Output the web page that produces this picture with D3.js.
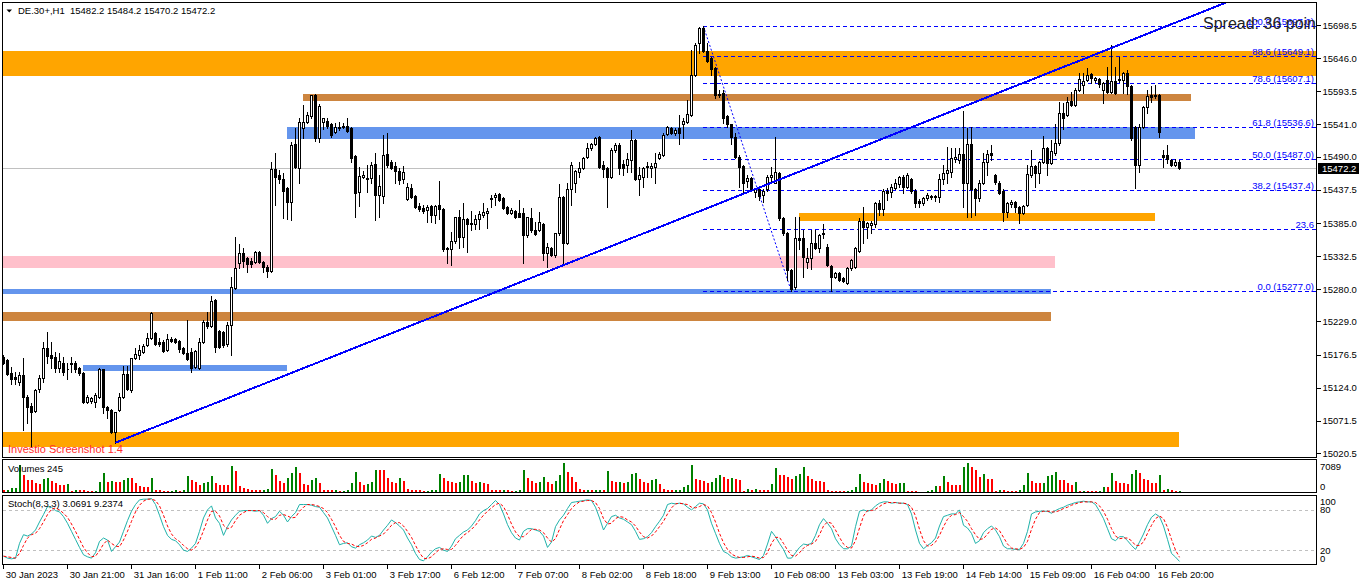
<!DOCTYPE html>
<html>
<head>
<meta charset="utf-8">
<script src="https://cdn.jsdelivr.net/npm/d3@7"></script>
<style>
  body { margin: 0; background: #fff; overflow: hidden; }
  svg { display: block; }
</style>
</head>
<body>
<svg id="chart" width="1362" height="585"></svg>
<script>
// DE.30+ H1 candles (price points)
var opens = [
15172,15168,15148,15141,15133,15145,15109,15095,15087,15122,
15140,15187,15176,15172,15156,15164,15153,15164,15164,15156,
15148,15101,15103,15101,15109,15153,15093,15089,15054,15089,
15109,15146,15121,15171,15176,15180,15192,15203,15211,15196,
15196,15184,15201,15201,15198,15187,15179,15180,15157,15156,
15196,15228,15222,15263,15214,15212,15193,15224,15282,15322,
15338,15330,15325,15323,15339,15323,15315,15309,15470,15461,
15454,15441,15418,15510,15472,15536,15545,15554,15587,15520,
15545,15546,15542,15529,15536,15537,15539,15536,15491,15434,
15457,15456,15456,15478,15430,15428,15494,15481,15475,15467,
15454,15423,15441,15428,15412,15409,15406,15412,15398,15414,
15407,15346,15344,15356,15394,15362,15391,15383,15383,15391,
15398,15401,15425,15426,15431,15425,15410,15401,15404,15401,
15401,15366,15393,15374,15374,15383,15338,15346,15335,15369,
15426,15354,15438,15449,15465,15472,15489,15504,15510,15521,
15477,15472,15457,15501,15509,15478,15477,15485,15517,15454,
15457,15473,15472,15473,15488,15493,15526,15536,15528,15536,
15542,15545,15556,15620,15670,15693,15657,15646,15631,15588,
15591,15554,15541,15521,15489,15475,15451,15456,15434,15438,
15430,15438,15457,15449,15464,15393,15369,15311,15283,15361,
15361,15323,15330,15354,15346,15367,15347,15317,15299,15306,
15298,15290,15314,15315,15341,15388,15378,15382,15383,15417,
15407,15436,15434,15441,15446,15457,15442,15454,15436,15420,
15417,15425,15426,15428,15426,15454,15464,15465,15486,15485,
15494,15449,15510,15439,15425,15449,15481,15496,15461,15449,
15436,15402,15415,15418,15410,15401,15414,15461,15475,15464,
15481,15504,15480,15496,15512,15559,15556,15578,15572,15596,
15604,15612,15621,15612,15613,15596,15612,15592,15610,15612,
15612,15623,15602,15537,15477,15537,15568,15587,15586,15587,
15493,15493,15485,15477,15482.2];
var highs = [
15176,15169,15157,15149,15149,15171,15113,15100,15122,15145,
15196,15212,15196,15180,15179,15172,15163,15172,15166,15157,
15149,15113,15109,15116,15156,15154,15095,15090,15085,15116,
15159,15159,15171,15187,15192,15193,15211,15244,15212,15203,
15200,15209,15204,15203,15200,15188,15232,15187,15184,15203,
15232,15244,15269,15264,15216,15214,15228,15299,15362,15352,
15346,15331,15330,15341,15341,15325,15319,15481,15496,15469,
15464,15442,15513,15536,15551,15572,15560,15588,15590,15573,
15551,15551,15544,15544,15545,15544,15551,15537,15493,15473,
15467,15477,15481,15496,15461,15525,15528,15485,15481,15472,
15475,15449,15447,15430,15417,15414,15414,15414,15414,15451,
15409,15347,15370,15394,15406,15417,15393,15404,15398,15404,
15417,15409,15430,15433,15433,15426,15412,15409,15406,15422,
15409,15394,15409,15386,15402,15385,15354,15347,15369,15447,
15428,15449,15481,15469,15481,15489,15512,15512,15521,15523,
15483,15473,15504,15512,15512,15485,15496,15533,15518,15473,
15473,15481,15480,15496,15497,15528,15539,15537,15536,15556,
15552,15580,15659,15670,15695,15697,15670,15648,15632,15596,
15596,15556,15542,15528,15493,15477,15461,15457,15441,15441,
15439,15461,15473,15521,15465,15394,15370,15312,15394,15394,
15374,15346,15374,15374,15367,15383,15351,15319,15307,15307,
15299,15315,15328,15347,15393,15410,15386,15388,15418,15422,
15438,15441,15446,15454,15459,15461,15464,15456,15438,15423,
15426,15433,15430,15430,15462,15477,15505,15504,15504,15504,
15562,15536,15537,15441,15453,15496,15501,15509,15462,15451,
15438,15418,15422,15420,15412,15414,15477,15501,15477,15483,
15523,15505,15517,15542,15576,15575,15584,15592,15598,15622,
15622,15631,15622,15616,15615,15608,15632,15667,15632,15648,
15624,15628,15604,15539,15541,15570,15596,15602,15604,15589,
15501,15509,15486,15486,15484.2];
var lows = [
15161,15145,15130,15130,15129,15057,15069,15030,15085,15117,
15133,15164,15156,15149,15149,15145,15138,15149,15149,15145,
15100,15100,15100,15093,15108,15084,15076,15053,15037,15087,
15108,15121,15117,15169,15169,15179,15190,15201,15192,15190,
15180,15182,15196,15195,15180,15177,15168,15149,15156,15154,
15195,15219,15220,15180,15187,15188,15190,15176,15280,15314,
15315,15307,15315,15322,15322,15307,15299,15307,15414,15449,
15393,15391,15390,15472,15449,15520,15544,15552,15515,15513,
15534,15536,15521,15528,15533,15536,15529,15481,15394,15412,
15456,15434,15449,15390,15394,15417,15473,15470,15449,15446,
15449,15422,15425,15409,15404,15401,15386,15386,15385,15391,
15341,15322,15319,15354,15346,15347,15339,15374,15375,15375,
15394,15377,15410,15414,15420,15407,15399,15399,15393,15394,
15322,15362,15370,15366,15372,15327,15315,15333,15331,15366,
15319,15352,15414,15434,15457,15470,15488,15501,15509,15472,
15457,15410,15456,15497,15462,15461,15465,15465,15453,15430,
15442,15457,15457,15449,15486,15491,15525,15526,15525,15510,
15520,15544,15554,15618,15654,15655,15640,15620,15583,15584,
15544,15537,15510,15488,15442,15434,15442,15436,15426,15422,
15418,15436,15449,15449,15390,15366,15295,15277,15280,15343,
15299,15314,15312,15343,15339,15361,15317,15278,15298,15293,
15291,15288,15311,15314,15339,15354,15361,15369,15378,15398,
15398,15422,15426,15438,15442,15433,15441,15433,15410,15410,
15414,15422,15423,15420,15418,15446,15449,15457,15481,15480,
15410,15394,15394,15398,15420,15447,15461,15485,15447,15431,
15388,15394,15410,15402,15385,15399,15412,15457,15442,15449,
15480,15461,15478,15493,15509,15534,15554,15570,15570,15594,
15591,15610,15607,15608,15600,15575,15591,15591,15589,15608,
15591,15589,15517,15441,15465,15536,15559,15576,15583,15521,
15473,15480,15475,15475,15470.2];
var closes = [
15163,15146,15138,15138,15145,15109,15093,15085,15121,15140,
15187,15174,15171,15156,15166,15149,15154,15162,15154,15148,
15101,15109,15108,15113,15153,15093,15089,15054,15085,15109,
15146,15122,15171,15177,15184,15190,15203,15243,15193,15193,
15182,15201,15198,15196,15185,15179,15169,15156,15182,15196,
15228,15222,15261,15188,15188,15192,15224,15283,15314,15338,
15325,15320,15320,15339,15323,15315,15309,15470,15457,15454,
15436,15418,15509,15473,15545,15545,15556,15587,15520,15570,
15551,15539,15525,15537,15537,15538,15531,15488,15433,15459,
15461,15455,15477,15430,15444,15493,15477,15472,15467,15453,
15465,15442,15426,15410,15407,15404,15410,15398,15412,15407,
15343,15343,15356,15394,15362,15391,15383,15385,15391,15399,
15402,15404,15423,15430,15422,15409,15401,15406,15394,15394,
15366,15394,15374,15367,15386,15338,15347,15335,15369,15426,
15354,15438,15477,15467,15472,15488,15504,15510,15520,15473,
15470,15457,15501,15509,15472,15472,15486,15517,15454,15461,
15472,15475,15475,15480,15494,15525,15537,15528,15533,15528,
15546,15557,15620,15667,15693,15657,15642,15629,15588,15589,
15551,15541,15521,15489,15473,15449,15456,15438,15438,15428,
15436,15457,15461,15465,15393,15369,15311,15280,15361,15358,
15331,15330,15354,15346,15366,15369,15319,15299,15306,15295,
15293,15314,15327,15346,15388,15378,15385,15385,15417,15407,
15436,15433,15442,15449,15457,15442,15461,15436,15417,15417,
15425,15430,15428,15426,15454,15464,15469,15488,15489,15494,
15449,15510,15438,15425,15449,15481,15494,15493,15450,15433,
15402,15417,15418,15410,15401,15412,15462,15475,15464,15481,
15504,15480,15499,15512,15559,15552,15576,15572,15596,15613,
15610,15620,15615,15615,15605,15607,15592,15610,15591,15613,
15623,15602,15520,15477,15537,15568,15586,15584,15587,15529,
15489,15486,15477,15481,15472.2];
var volumes = [
400,560,850,1050,6400,4000,2800,2800,2200,2000,3200,3400,2650,2050,1700,1700,1950,
150,470,470,470,150,150,300,
2400,4500,2500,2650,2500,2350,2800,3300,3300,2050,1400,1100,1100,3300,600,
450,300,250,350,400,300,450,
3900,2800,2500,1800,2200,2400,3900,2200,1800,1700,1600,6200,5000,1400,
900,700,600,500,450,500,800,
5500,4200,2600,2200,3300,4500,5900,4500,2000,1600,2900,3300,2200,
500,400,400,450,300,350,500,
2200,4900,2400,1600,2000,2500,5300,5200,5200,3300,2500,2200,3300,2700,800,
500,450,400,300,350,400,450,
4400,3300,2600,2400,2200,2400,4000,4200,2600,2200,2500,2200,1900,
600,400,400,500,450,300,350,600,
5400,3400,2700,2200,2500,3500,2400,2000,2600,4000,6900,4900,3600,2300,
700,500,600,400,500,600,450,
5100,2700,2400,2500,2100,2400,4300,4600,3200,2500,2100,2800,3100,2000,
800,600,400,500,600,1300,1700,
6400,3230,2840,2680,2050,2290,3470,4180,3620,3230,3470,3230,2990,320,
630,470,630,470,470,470,1890,
5830,4020,4020,3620,3230,3780,4260,5990,3780,3230,2680,2680,2440,
470,320,150,150,150,240,400,1100,
4410,2440,2050,1810,1650,2050,3230,2680,2050,1890,2050,2210,
320,320,150,100,100,150,470,1420,
1420,3780,2440,1650,1650,1650,5990,7089,5990,5200,3620,4260,3230,3230,
300,470,470,150,150,150,470,1650,
4570,2600,2210,2050,2210,3780,4020,4810,2990,2840,2050,1650,2440,
250,320,200,200,200,320,1260,1260,
4570,2680,2210,2050,1890,4410,5200,4570,3230,2990,2210,2210,4020,
500,630,470,240,245];
// Stochastic (8,3,3) main and signal
var stochMain = [
11,8,7,8,30,43,41,44,50,62, 73,85,84,79,77,70,60,48,36,24,
13,10,8,16,33,38,35,18,25,32, 48,64,78,88,95,96,96,97,88,72,
55,42,36,34,28,20,18,23,30,48, 68,80,86,68,60,42,55,65,72,78,
79,79,79,78,79,72,60,67,70,78, 72,62,70,76,88,88,88,87,85,84,
76,68,55,42,28,30,31,25,23,28, 31,35,41,39,42,50,57,65,61,56,
50,38,28,15,6,4,10,17,22,24, 20,18,26,37,42,47,50,56,64,74,
79,82,88,94,88,74,58,46,38,35, 48,52,52,50,48,41,24,32,55,65,
72,82,91,92,93,94,95,94,84,68, 50,60,70,72,68,66,62,58,48,36,
37,40,46,55,63,72,88,90,89,90, 89,84,80,85,90,89,80,60,45,30,
18,15,10,8,9,10,12,10,8,6, 12,29,48,40,30,21,8,8,16,24,
29,28,30,42,58,67,60,52,37,28, 22,22,26,55,78,80,78,80,86,90,
92,92,90,91,90,90,88,74,50,30, 22,27,31,38,56,70,72,74,74,80,
57,53,45,30,34,46,52,56,50,40, 26,22,22,21,21,30,48,74,77,78,
78,78,75,79,82,84,87,89,91,92, 93,92,92,88,78,67,52,37,34,40,
40,34,27,21,32,44,58,69,74,70, 56,36,15,9.6,3.0691];
var stochSignal = [
11,10,9,8,15,27,38,43,45,52, 62,73,81,83,80,75,69,59,48,36,
24,16,10,11,19,29,35,30,26,25, 35,48,63,77,87,93,96,96,94,86,
72,56,44,37,33,27,22,20,24,34, 49,65,78,78,71,57,52,54,64,72,
76,79,79,79,79,76,70,66,66,72, 73,71,68,69,78,84,88,88,87,85,
82,76,66,55,42,33,30,29,26,25, 27,31,36,38,41,44,50,57,61,61,
56,48,39,27,16,8,7,10,16,21, 22,21,21,27,35,42,46,51,57,65,
72,78,83,88,90,85,73,59,47,40, 40,45,51,51,50,46,38,32,37,51,
64,73,82,88,92,93,94,94,91,82, 67,59,60,67,70,69,65,62,56,47,
40,38,41,47,55,63,74,83,89,90, 89,88,84,83,85,88,86,76,62,45,
31,21,14,11,9,9,10,11,10,8, 9,16,30,39,39,30,20,12,11,16,
23,27,29,33,43,56,62,60,50,39, 29,24,23,34,53,71,79,79,81,85,
89,91,91,91,90,90,89,84,71,51, 34,26,27,32,42,55,66,72,73,76,
70,63,52,43,36,37,44,51,53,49, 39,29,23,22,21,24,33,51,66,76,
78,78,77,77,79,82,84,87,89,91, 92,92,92,91,86,78,66,52,41,37,
38,38,34,27,27,32,45,57,67,71, 67,54,36,20,9.2374];

var priceTicks = [15698.5,15646.0,15593.5,15541.0,15490.0,15437.5,15385.0,15332.5,15280.0,15229.0,15176.5,15124.0,15071.5,15020.5];
var timeBars = [0,16,32,48,64,80,96,112,128,144,160,176,192,208,224,240,256,272,288];
var timeLabels = ["30 Jan 2023","30 Jan 21:00","31 Jan 16:00","1 Feb 11:00","2 Feb 06:00","3 Feb 01:00",
  "3 Feb 17:00","6 Feb 12:00","7 Feb 07:00","8 Feb 02:00","8 Feb 18:00","9 Feb 13:00","10 Feb 08:00",
  "13 Feb 03:00","13 Feb 19:00","14 Feb 14:00","15 Feb 09:00","16 Feb 04:00","16 Feb 20:00"];

// drawn objects: rectangles (bar index from/to, price top/bottom), trend line, fibo
var zoneStart  = [-5, 75, 71, 199, -5, -5, -5, 20, -5];
var zoneEnd    = [340, 297, 298, 288, 263, 262, 262, 71, 294];
var zoneTop    = [15657, 15589, 15536.5, 15401, 15333, 15280, 15243.5, 15160, 15054.5];
var zoneBottom = [15618, 15578, 15518, 15388, 15314, 15272.5, 15230.5, 15151, 15031];
var zoneKind   = ["orange","peru","blue","orange","pink","blue","peru","blue","orange"];
var trendBars = [28, 277];
var trendPrices = [15037, 15662];
var fibBars = [175, 197];
var fibPrices = [15697.0, 15277.0];
var fibLevels = [0, 23.6, 38.2, 50, 61.8, 78.6, 88.6, 100];
var fibShowPrice = [true, false, true, true, true, true, true, true];

var zoneColor = { orange: "#FFA500", peru: "#CD853F", blue: "#6495ED", pink: "#FFC0CB" };
var FONT = "'Liberation Sans', Arial, sans-serif";

var svg = d3.select("#chart");
var n = closes.length;
var last = n - 1;

var x = d3.scaleLinear().domain([0, last]).range([3.3, 1179.3]);
var bx = function(i){ return Math.round(x(i)); };
var y = d3.scaleLinear().domain([15014.4, 15734.9]).range([457, 2]);
var py = function(p){ return Math.round(y(p)); };
var yv = d3.scaleLinear().domain([0, d3.max(volumes)]).range([492, 462.5]);
var ys = d3.scaleLinear().domain([0, 100]).range([563.5, 496.5]);

var defs = svg.append("defs");
defs.append("clipPath").attr("id", "mainClip").append("rect")
  .attr("x", 3).attr("y", 3).attr("width", 1313).attr("height", 454);
defs.append("clipPath").attr("id", "stochClip").append("rect")
  .attr("x", 3).attr("y", 496).attr("width", 1313).attr("height", 68);

var g = svg.append("g").attr("clip-path", "url(#mainClip)");

// rectangles
g.append("g").selectAll("rect").data(d3.range(zoneStart.length)).join("rect")
  .attr("x", function(k){ return x(zoneStart[k]); })
  .attr("width", function(k){ return x(zoneEnd[k]) - x(zoneStart[k]); })
  .attr("y", function(k){ return y(zoneTop[k]); })
  .attr("height", function(k){ return y(zoneBottom[k]) - y(zoneTop[k]); })
  .attr("fill", function(k){ return zoneColor[zoneKind[k]]; })
  .attr("shape-rendering", "crispEdges");

// bid line
g.append("line")
  .attr("x1", 3).attr("x2", 1316)
  .attr("y1", py(closes[last]) + 0.5).attr("y2", py(closes[last]) + 0.5)
  .attr("stroke", "#C0C0C0").attr("shape-rendering", "crispEdges");

// fibo levels
var fibRange = fibPrices[0] - fibPrices[1];
var fibPrice = function(l){ return fibPrices[1] + fibRange * l / 100; };
g.append("g").selectAll("line").data(fibLevels).join("line")
  .attr("x1", x(fibBars[0])).attr("x2", 1316)
  .attr("y1", function(l){ return py(fibPrice(l)) + 0.5; })
  .attr("y2", function(l){ return py(fibPrice(l)) + 0.5; })
  .attr("stroke", "#0000FF").attr("stroke-dasharray", "4,3")
  .attr("shape-rendering", "crispEdges");
g.append("line")
  .attr("x1", x(fibBars[0])).attr("y1", y(fibPrices[0]))
  .attr("x2", x(fibBars[1])).attr("y2", y(fibPrices[1]))
  .attr("stroke", "#0000FF").attr("stroke-dasharray", "2,2");

// candles
var bars = d3.range(n);
g.append("g").selectAll("line").data(bars).join("line")
  .attr("x1", function(i){ return bx(i) + 0.5; })
  .attr("x2", function(i){ return bx(i) + 0.5; })
  .attr("y1", function(i){ return py(highs[i]); })
  .attr("y2", function(i){ return py(lows[i]) + 1; })
  .attr("stroke", "#000").attr("shape-rendering", "crispEdges");
g.append("g").selectAll("path").data(bars).join("path")
  .attr("d", function(i){
    var t = py(Math.max(opens[i], closes[i]));
    var b = py(Math.min(opens[i], closes[i]));
    return "M" + (bx(i) - 0.5) + "," + (t + 0.5) + "h2v" + (b - t) + "h-2Z";
  })
  .attr("fill", function(i){ return closes[i] >= opens[i] ? "#fff" : "#000"; })
  .attr("stroke", "#000").attr("shape-rendering", "crispEdges");

// trend line (ray)
var tx1 = x(trendBars[0]), ty1 = y(trendPrices[0]);
var slope = (y(trendPrices[1]) - ty1) / (x(trendBars[1]) - tx1);
g.append("line")
  .attr("x1", tx1).attr("y1", ty1)
  .attr("x2", 1320).attr("y2", ty1 + slope * (1320 - tx1))
  .attr("stroke", "#0000FF").attr("stroke-width", 2)
  .attr("shape-rendering", "crispEdges");

// fibo labels
g.append("g").selectAll("text").data(fibLevels).join("text")
  .attr("x", 1314)
  .attr("y", function(l){ return py(fibPrice(l)) - 1; })
  .attr("text-anchor", "end")
  .attr("font-family", FONT).attr("font-size", 9.5).attr("fill", "#0000FF")
  .text(function(l, k){
    return fibShowPrice[k] ? l.toFixed(1) + " (" + fibPrice(l).toFixed(1) + ")" : l.toFixed(1);
  });

g.append("text")
  .attr("x", 1203).attr("y", 28.5)
  .attr("font-family", FONT).attr("font-size", 16).attr("fill", "#222")
  .text("Spread: 36 points");

g.append("text")
  .attr("x", 8).attr("y", 453)
  .attr("font-family", FONT).attr("font-size", 11).attr("fill", "#ff2d2d")
  .text("Investio Screenshot 1.4");

// header
svg.append("path").attr("d", "M6.5,9.5H12L9.25,12.5Z").attr("fill", "#000");
svg.append("text")
  .attr("x", 18).attr("y", 14).style("white-space", "pre")
  .attr("font-family", FONT).attr("font-size", 9.5).attr("fill", "#000")
  .text("DE.30+,H1  " + [opens[last], highs[last], lows[last], closes[last]].map(function(v){ return v.toFixed(1); }).join(" "));

// volumes
svg.append("g").selectAll("rect").data(bars).join("rect")
  .attr("x", function(i){ return bx(i); })
  .attr("width", 2)
  .attr("y", function(i){ return yv(volumes[i]); })
  .attr("height", function(i){ return yv(0) - yv(volumes[i]); })
  .attr("fill", function(i){ return i > 0 && volumes[i] > volumes[i - 1] ? "#008000" : "#FF0000"; })
  .attr("shape-rendering", "crispEdges");
svg.append("text")
  .attr("x", 8).attr("y", 471.5)
  .attr("font-family", FONT).attr("font-size", 9.5).attr("fill", "#000")
  .text("Volumes " + volumes[last]);

// stochastic
var sg = svg.append("g").attr("clip-path", "url(#stochClip)");
sg.selectAll("line.level").data([20, 80]).join("line")
  .attr("class", "level")
  .attr("x1", 3).attr("x2", 1316)
  .attr("y1", function(v){ return Math.round(ys(v)) + 0.5; })
  .attr("y2", function(v){ return Math.round(ys(v)) + 0.5; })
  .attr("stroke", "#C0C0C0").attr("stroke-dasharray", "3,3")
  .attr("shape-rendering", "crispEdges");
var stochLine = d3.line()
  .x(function(d, i){ return bx(i) + 0.5; })
  .y(function(d){ return ys(d); });
sg.append("path").attr("d", stochLine(stochMain))
  .attr("fill", "none").attr("stroke", "#20B2AA").attr("stroke-width", 1);
sg.append("path").attr("d", stochLine(stochSignal))
  .attr("fill", "none").attr("stroke", "#FF0000").attr("stroke-width", 1)
  .attr("stroke-dasharray", "3,2");
svg.append("text")
  .attr("x", 8).attr("y", 507)
  .attr("font-family", FONT).attr("font-size", 9.5).attr("fill", "#000")
  .text("Stoch(8,3,3) " + stochMain[last].toFixed(4) + " " + stochSignal[last].toFixed(4));

// panel frames
[[2.5, 457.5], [459.5, 492.5], [495.5, 564.5]].forEach(function(p){
  svg.append("rect")
    .attr("x", 2.5).attr("y", p[0]).attr("width", 1314).attr("height", p[1] - p[0])
    .attr("fill", "none").attr("stroke", "#000").attr("shape-rendering", "crispEdges");
});

// price scale
var ay = svg.append("g").attr("transform", "translate(1316.5,0)")
  .call(d3.axisRight(y).tickValues(priceTicks).tickSize(4).tickSizeOuter(0).tickFormat(d3.format(".1f")));
ay.select(".domain").remove();
ay.attr("font-family", FONT).attr("font-size", 9.5);
ay.selectAll("line").attr("stroke", "#000").attr("shape-rendering", "crispEdges");
ay.selectAll("text").attr("fill", "#000").attr("x", 6);

// bid label
svg.append("rect").attr("x", 1318).attr("y", py(closes[last]) - 5).attr("width", 41).attr("height", 11).attr("fill", "#000");
svg.append("text")
  .attr("x", 1322).attr("y", py(closes[last]) + 4)
  .attr("font-family", FONT).attr("font-size", 9.5).attr("fill", "#fff")
  .text(closes[last].toFixed(1));

// volume scale
svg.append("text").attr("x", 1320).attr("y", yv(d3.max(volumes)) + 7.5)
  .attr("font-family", FONT).attr("font-size", 9.5).text(d3.max(volumes));
svg.append("text").attr("x", 1320).attr("y", yv(0) - 2)
  .attr("font-family", FONT).attr("font-size", 9.5).text("0");

// stochastic scale
svg.append("text").attr("x", 1320).attr("y", ys(100) + 8.5)
  .attr("font-family", FONT).attr("font-size", 9.5).text("100");
[80, 20].forEach(function(v){
  svg.append("text").attr("x", 1320).attr("y", ys(v) + 3.5)
    .attr("font-family", FONT).attr("font-size", 9.5).text(v);
});
svg.append("text").attr("x", 1320).attr("y", ys(0) - 2)
  .attr("font-family", FONT).attr("font-size", 9.5).text("0");

// time scale
var ax = svg.append("g").attr("transform", "translate(0,564.5)")
  .call(d3.axisBottom(x).tickValues(timeBars).tickSize(4).tickSizeOuter(0)
    .tickFormat(function(d, k){ return timeLabels[k]; }));
ax.select(".domain").remove();
ax.attr("font-family", FONT).attr("font-size", 9.5);
ax.selectAll("line").attr("stroke", "#000").attr("shape-rendering", "crispEdges");
ax.selectAll("text").attr("fill", "#000").attr("text-anchor", "start").attr("x", 2);
</script>
</body>
</html>
